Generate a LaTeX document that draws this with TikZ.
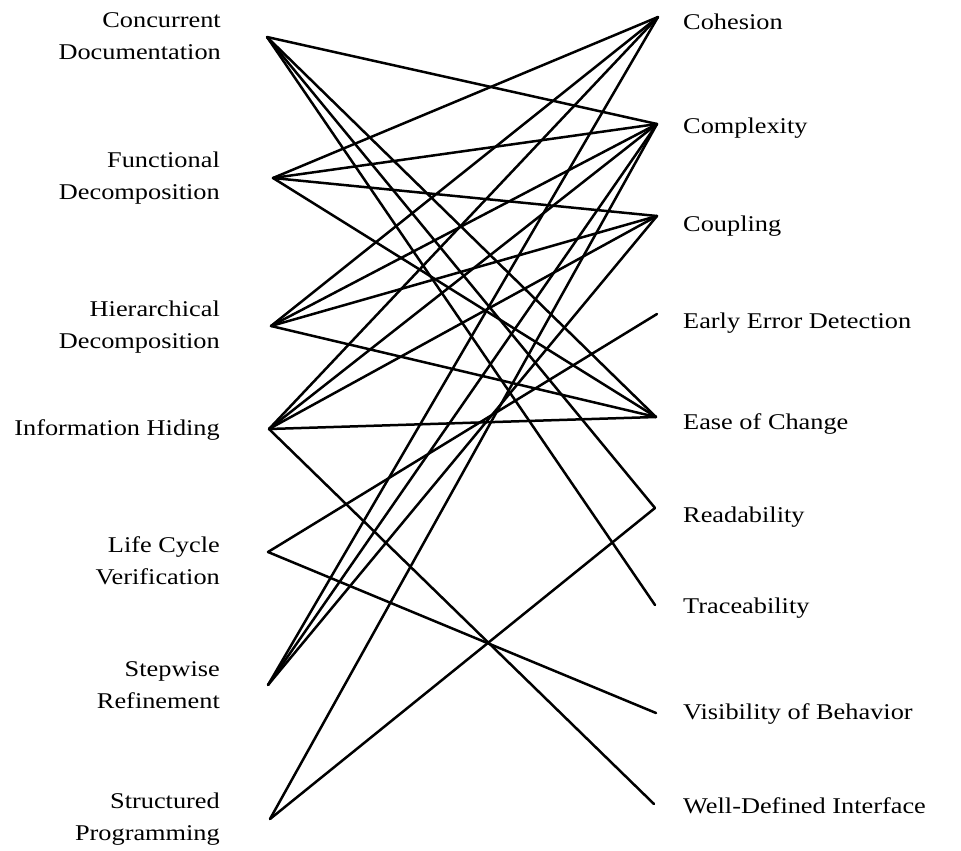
\documentclass[tikz,border=0pt]{standalone}
\usepackage{fontspec}
\setmainfont{Liberation Serif}[FakeStretch=1.17]
\begin{document}
\begin{tikzpicture}[x=1pt,y=-1pt,
  lbl/.style={font=\fontsize{22.5}{32}\selectfont, inner sep=0pt},
  leftlbl/.style={lbl, anchor=east, align=right},
  rightlbl/.style={lbl, anchor=west, align=left},
  link/.style={line width=2.5pt, line cap=round, line join=round}]
\useasboundingbox (0,0) rectangle (961,851);

% practices (left column)
\node[leftlbl] (tcd) at (221,36) {Concurrent\\Documentation};
\node[leftlbl] (tfd) at (220,178) {Functional\\Decomposition};
\node[leftlbl] (thd) at (220,327) {Hierarchical\\Decomposition};
\node[leftlbl] (tih) at (220,430) {Information Hiding};
\node[leftlbl] (tlc) at (220,561) {Life Cycle\\Verification};
\node[leftlbl] (tsr) at (220,685) {Stepwise\\Refinement};
\node[leftlbl] (tsp) at (220,819) {Structured\\Programming};

% attributes (right column)
\node[rightlbl] (tco) at (683,22) {Cohesion};
\node[rightlbl] (tcx) at (683,128) {Complexity};
\node[rightlbl] (tcu) at (683,226) {Coupling};
\node[rightlbl] (tee) at (683,323) {Early Error Detection};
\node[rightlbl] (tec) at (683,424) {Ease of Change};
\node[rightlbl] (tre) at (683,517) {Readability};
\node[rightlbl] (ttr) at (683,608) {Traceability};
\node[rightlbl] (tvb) at (683,714) {Visibility of Behavior};
\node[rightlbl] (twd) at (683,806) {Well-Defined Interface};

% connection points
\coordinate (cd) at (267,37);
\coordinate (fd) at (273,178);
\coordinate (hd) at (271,326);
\coordinate (ih) at (269,429);
\coordinate (lc) at (268,552);
\coordinate (sr) at (268,685);
\coordinate (sp) at (270,819);

\coordinate (co) at (658,17);
\coordinate (cx) at (657,124);
\coordinate (cu) at (657,216);
\coordinate (ee) at (657,314);
\coordinate (ec) at (656,417);
\coordinate (re) at (655,508);
\coordinate (tr) at (655,605);
\coordinate (vb) at (656,713);
\coordinate (wd) at (654,804);

% links
\draw[link] (cd) -- (cx);
\draw[link] (cd) -- (ec);
\draw[link] (cd) -- (re);
\draw[link] (cd) -- (tr);

\draw[link] (fd) -- (co);
\draw[link] (fd) -- (cx);
\draw[link] (fd) -- (cu);
\draw[link] (fd) -- (ec);

\draw[link] (hd) -- (co);
\draw[link] (hd) -- (cx);
\draw[link] (hd) -- (cu);
\draw[link] (hd) -- (ec);

\draw[link] (ih) -- (co);
\draw[link] (ih) -- (cx);
\draw[link] (ih) -- (cu);
\draw[link] (ih) -- (ec);
\draw[link] (ih) -- (wd);

\draw[link] (lc) -- (ee);
\draw[link] (lc) -- (vb);

\draw[link] (sr) -- (co);
\draw[link] (sr) -- (cx);
\draw[link] (sr) -- (cu);

\draw[link] (sp) -- (cx);
\draw[link] (sp) -- (re);
\end{tikzpicture}
\end{document}
